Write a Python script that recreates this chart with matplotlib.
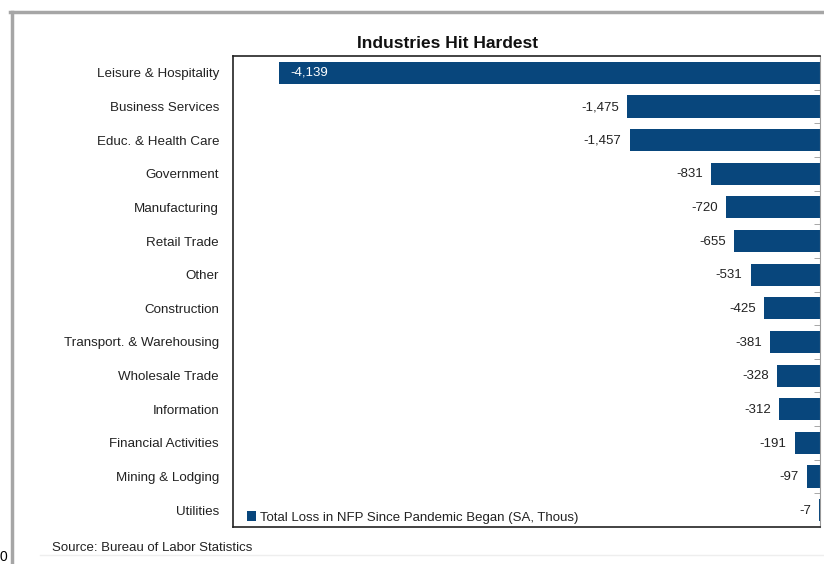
# %% pacotes
import matplotlib.pyplot as plt
from matplotlib.lines import Line2D

# %% dados
industrias = ['Leisure & Hospitality', 'Business Services', 'Educ. & Health Care',
              'Government', 'Manufacturing', 'Retail Trade', 'Other', 'Construction',
              'Transport. & Warehousing', 'Wholesale Trade', 'Information',
              'Financial Activities', 'Mining & Lodging', 'Utilities']
perdas = [-4139, -1475, -1457, -831, -720, -655, -531, -425, -381, -328, -312, -191, -97, -7]
serie = 'Total Loss in NFP Since Pandemic Began (SA, Thous)'

cor = '#08467C'
plt.rcParams['font.family'] = ['Liberation Sans', 'DejaVu Sans']

# %% grafico
fig = plt.figure(figsize=(8.24, 5.64), dpi=100)
ax = fig.add_axes([233/824, 1 - 527/564, 587/824, 471/564])

pos = list(range(len(industrias)))
ax.barh(pos, perdas, height=0.66, color=cor, label=serie)
ax.set_ylim(len(industrias) - 0.5, -0.5)
ax.set_xlim(-4490, 0)

ax.set_yticks(pos)
ax.set_yticklabels(industrias, fontsize=9.6, color='#222222')
ax.tick_params(axis='y', length=0, pad=10)
ax.set_xticks([])

# marcas pequenas no lado direito entre as categorias
ax.set_yticks([p + 0.5 for p in pos[:-1]], minor=True)
ax.tick_params(axis='y', which='minor', right=True, left=False, direction='in',
               length=4, color='#999999')

for s in ['left', 'top', 'bottom']:
    ax.spines[s].set_color('#222222')
    ax.spines[s].set_linewidth(1.2)
ax.spines['right'].set_color('#999999')

# rotulos de valor
for i, v in enumerate(perdas):
    txt = f'{v:,}'
    if i == 0:
        ax.annotate(txt, xy=(v, i), xytext=(8, 0), textcoords='offset points',
                    ha='left', va='center', color='white', fontsize=9.5)
    else:
        ax.annotate(txt, xy=(v, i), xytext=(-6, -0.5), textcoords='offset points',
                    ha='right', va='center', color='#222222', fontsize=9.5)

ax.legend(loc='lower left', frameon=False, fontsize=9.5, handlelength=0.7,
          handleheight=0.7, handletextpad=0.3, bbox_to_anchor=(0.004, -0.018),
          labelcolor='#222222')

fig.text(448/824, 1 - 44/564, 'Industries Hit Hardest', ha='center', va='center',
         fontsize=12.5, fontweight='bold', color='#111111')
fig.text(52/824, 1 - 548/564, 'Source: Bureau of Labor Statistics', ha='left',
         va='center', fontsize=9.5, color='#222222')
fig.text(0.0, 0.0, '0', ha='left', va='bottom', fontsize=10)

# moldura cinza
fig.add_artist(Line2D([11.5/824, 11.5/824], [0, 1 - 11.5/564], color='#a6a6a6', lw=2.5,
                      transform=fig.transFigure))
fig.add_artist(Line2D([10/824, 1], [1 - 11.5/564, 1 - 11.5/564], color='#a6a6a6', lw=2.5,
                      transform=fig.transFigure))
fig.add_artist(Line2D([40/824, 1], [1 - 555/564, 1 - 555/564], color='#eeeeee', lw=1,
                      transform=fig.transFigure))

fig.savefig('out.png', dpi=100)
